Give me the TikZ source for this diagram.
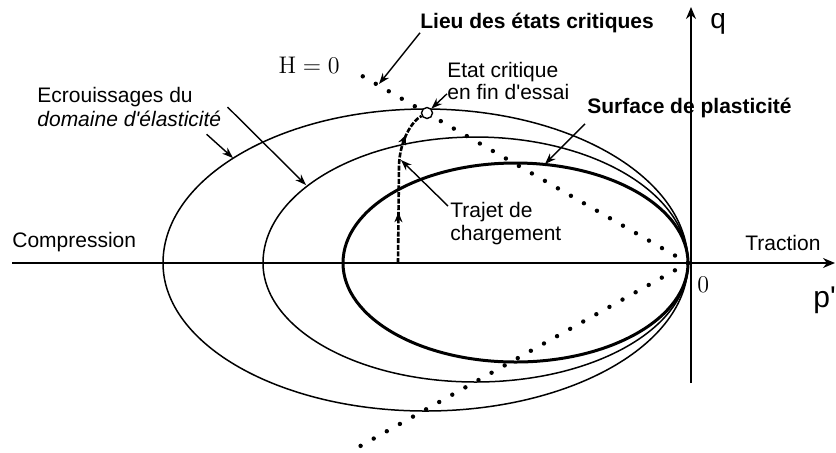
\documentclass[tikz,border=0pt]{standalone}
\usepackage[no-math]{fontspec}
\setmainfont{Liberation Sans}
\usetikzlibrary{calc,arrows.meta,decorations.markings}

\begin{document}
\begin{tikzpicture}[x=0.5pt,y=-0.5pt,
			ax/.style={-{Stealth[length=6pt,width=5pt]},line width=0.75pt},
			ell/.style={line width=0.75pt},
			elp/.style={line width=1.5pt},
			cs/.style={line width=2.2pt,line cap=round,dash pattern=on 0pt off 7.5pt},
			lb/.style={-{Stealth[length=5.5pt,width=4pt]},line width=0.7pt},
			ch/.style={line width=1.3pt,dash pattern=on 2.5pt off 0.8pt,
				postaction={decorate},decoration={markings,
				mark=at position 0.33 with {\arrow{Stealth[length=5pt,width=4pt]}},
				mark=at position 0.84 with {\arrow{Stealth[length=5pt,width=4pt]}}}},
			tx/.style={inner sep=0pt,font=\fontsize{10.5}{12}\selectfont},
			tb/.style={inner sep=0pt,font=\bfseries\fontsize{10.5}{12}\selectfont}]
			\useasboundingbox (0,0) rectangle (836,452);
			\coordinate (O) at (688,263);
			\coordinate (h0) at (350,69);
			\coordinate (cl) at (355,449);
			\draw[ell] (O) arc[start angle=0,end angle=180,x radius=131.25pt,y radius=77pt]
				arc[start angle=180,end angle=360,x radius=131.25pt,y radius=74pt];
			\draw[ell] (O) arc[start angle=0,end angle=180,x radius=106.25pt,y radius=63pt]
				arc[start angle=180,end angle=360,x radius=106.25pt,y radius=59.5pt];
			\draw[elp] (O) arc[start angle=0,end angle=180,x radius=86.25pt,y radius=50pt]
				arc[start angle=180,end angle=360,x radius=86.25pt,y radius=49.5pt];
			\draw[ax] (12,263) -- (835,263);
			\draw[ax] (691,383) -- (691,7);
			\draw[cs] (O) -- (h0);
			\draw[cs] (O) -- (cl);
			\node[circle,draw,fill=white,line width=0.7pt,minimum size=5.5pt,inner sep=0pt] (fin) at (427,113) {};
			\draw[ch] (398,263) -- (399,165) .. controls (400,140) and (412,121) .. (fin);
			\node[tb,anchor=base west] (lieu) at (420,28) {Lieu des états critiques};
			\node[anchor=base east,inner sep=0pt,font=\fontsize{12.5}{14}\selectfont] (hz) at (340,73) {$\mathrm{H}=0$};
			\node[tx,align=left,anchor=north west,font=\fontsize{10.5}{9.5}\selectfont] (etat) at (447,62) {Etat critique\\en fin d\textquotesingle essai};
			\node[tx,align=left,anchor=north west] (ecr) at (37,87) {Ecrouissages du\\\textit{domaine d\textquotesingle élasticité}};
			\node[tb,anchor=base west] (surf) at (587,113) {Surface de plasticité};
			\node[tx,align=left,anchor=north west,font=\fontsize{10.5}{11.5}\selectfont] (traj) at (450,202) {Trajet de\\chargement};
			\node[tx,anchor=base west] (comp) at (12,247) {Compression};
			\node[tx,anchor=base west] (trac) at (745,250) {Traction};
			\node[anchor=base west,inner sep=0pt,font=\fontsize{12.5}{14}\selectfont] (zero) at (697,292) {$0$};
			\node[anchor=base west,inner sep=0pt,font=\fontsize{14}{16}\selectfont] (q) at (710,28) {q};
			\node[anchor=base west,inner sep=0pt,font=\fontsize{15}{17}\selectfont] (p) at (813,307) {p\textquotesingle};
			\coordinate (tl) at (379,84);
			\coordinate (e1) at (233,158);
			\coordinate (e2) at (306,185);
			\coordinate (es) at (545,164);
			\coordinate (et) at (401,160);
			\draw[lb] (lieu.south west) -- (tl);
			\draw[lb] ($(etat.south west)+(0,-6)$) -- (fin.north east);
			\draw[lb] ($(ecr.south east)+(-15,7)$) -- (e1);
			\draw[lb] ($(ecr.east)+(6,0)$) -- (e2);
			\draw[lb] ($(surf.south west)+(-2,6)$) -- (es);
			\draw[lb] ($(traj.north west)+(-2,4)$) -- (et);
		\end{tikzpicture}
\end{document}
